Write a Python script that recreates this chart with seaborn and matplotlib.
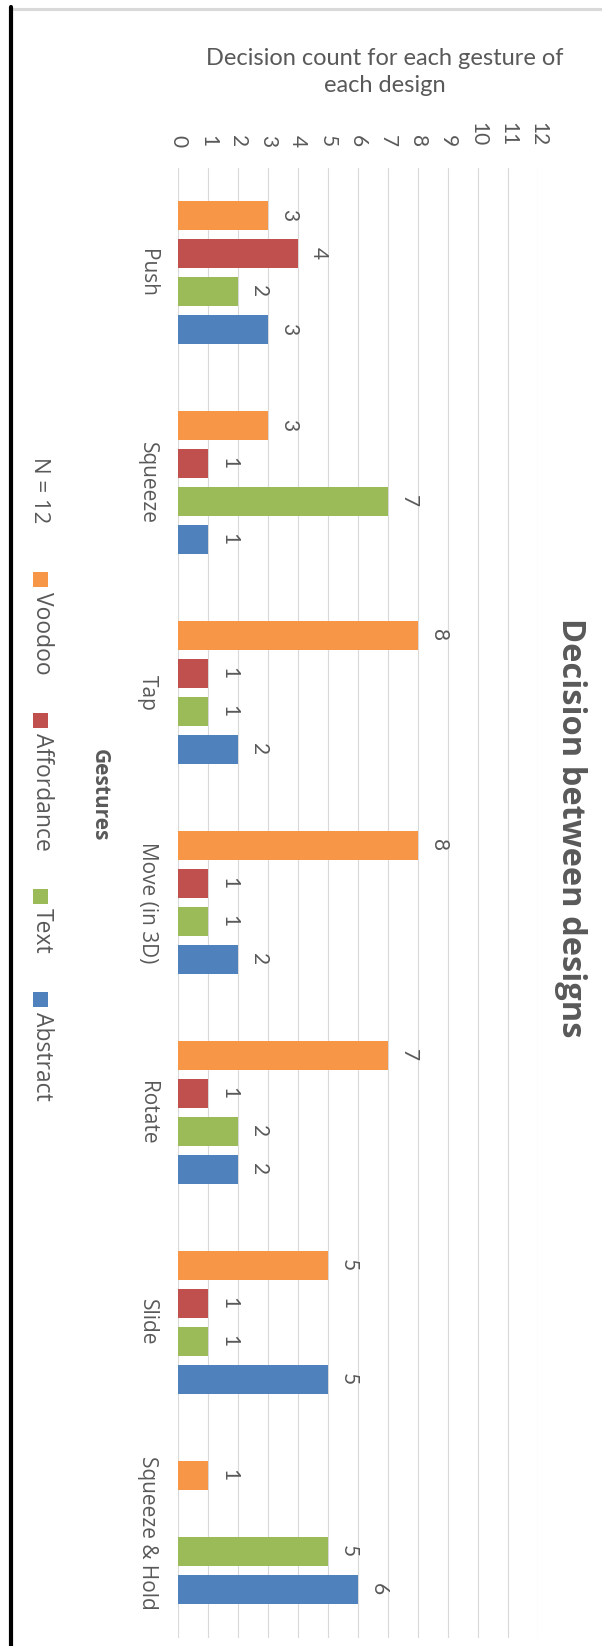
import pandas as pd
import seaborn as sns
import matplotlib.pyplot as plt
from matplotlib.lines import Line2D
from matplotlib.patches import Rectangle

gestures = ['Push', 'Squeeze', 'Tap', 'Move (in 3D)', 'Rotate', 'Slide', 'Squeeze & Hold']
designs = ['Voodoo', 'Affordance', 'Text', 'Abstract']
voodoo = [3, 3, 8, 8, 7, 5, 1]
affordance = [4, 1, 1, 1, 1, 1, 0]
text = [2, 7, 1, 1, 2, 1, 5]
abstract = [3, 1, 2, 2, 2, 5, 6]
colors = ['#F79646', '#C0504D', '#9BBB59', '#4F81BD']
value_ticks = list(range(13))

rows = []
for name, vals in zip(designs, [voodoo, affordance, text, abstract]):
    for g, v in zip(gestures, vals):
        rows.append({'gesture': g, 'design': name, 'count': v})
df = pd.DataFrame(rows)

sns.set_style('white')
plt.rcParams['font.family'] = ['Open Sans', 'DejaVu Sans']
grey = '#595959'

W, H = 602, 1646
fig = plt.figure(figsize=(W / 100, H / 100), dpi=100)
ax = fig.add_axes([178 / W, 1 - 1637.5 / H, 360 / W, 1470 / H])

sns.barplot(data=df, x='count', y='gesture', hue='design', orient='h',
            palette=colors, saturation=1, width=0.724, gap=0.237, legend=False, ax=ax,
            linewidth=0)

ax.set_xlim(0, 12)
ax.set_ylim(6.5, -0.5)
ax.set_xticks(value_ticks)
ax.xaxis.tick_top()
ax.grid(axis='x', color='#D9D9D9', linewidth=0.8)
ax.grid(axis='y', visible=False)
ax.set_axisbelow(True)
for s in ax.spines.values():
    s.set_visible(False)
ax.set_xlabel('')
ax.set_ylabel('')

ax.tick_params(axis='x', length=0, pad=15, labelrotation=-90, labelsize=15, labelcolor=grey)
for lab in ax.get_xticklabels():
    lab.set_family(['Lato', 'DejaVu Sans'])
ax.tick_params(axis='y', length=0, pad=22, labelrotation=-90, labelsize=15, labelcolor=grey)
for lab in ax.get_yticklabels():
    lab.set_ha('center')
    lab.set_va('center')

for cont, vals in zip(ax.containers, [voodoo, affordance, text, abstract]):
    labels = [str(v) if v > 0 else '' for v in vals]
    anns = ax.bar_label(cont, labels=labels, padding=8, rotation=-90, fontsize=15,
                        color=grey, family=['Lato', 'DejaVu Sans'])
    for a in anns:
        a.set_va('center')

# titles
fig.text(385 / W, 1 - 72 / H, 'Decision count for each gesture of\neach design', ha='center', va='center',
         fontsize=17, color=grey, family=['Lato', 'DejaVu Sans'], linespacing=1.35)
fig.text(570 / W, 1 - 828 / H, 'Decision between designs', rotation=-90, ha='center', va='center',
         fontsize=23.5, fontweight='bold', color=grey)
fig.text(99 / W, 1 - 795 / H, 'Gestures', rotation=-90, ha='center', va='center',
         fontsize=15, fontweight='bold', color=grey)
fig.text(39 / W, 1 - 490 / H, 'N = 12', rotation=-90, ha='center', va='center',
         fontsize=16, color=grey)

# legend, laid out downwards
fig.canvas.draw()
renderer = fig.canvas.get_renderer()
y = 572.0
for name, col in zip(designs, colors):
    fig.add_artist(Rectangle((33 / W, 1 - (y + 15) / H), 15 / W, 15 / H,
                             transform=fig.transFigure, color=col, lw=0))
    t = fig.text(42 / W, 1 - (y + 20) / H, name, rotation=-90, ha='center', va='top',
                 fontsize=16.5, color=grey)
    bb = t.get_window_extent(renderer)
    y = H - bb.y0 + 38

# frame lines from the screenshot
fig.add_artist(Line2D([13 / W, 1], [1 - 8.5 / H] * 2, color='#D9D9D9', lw=2.2))
fig.add_artist(Line2D([11 / W] * 2, [0, 1 - 7 / H], color='black', lw=3))

fig.savefig('out.png', dpi=100)
